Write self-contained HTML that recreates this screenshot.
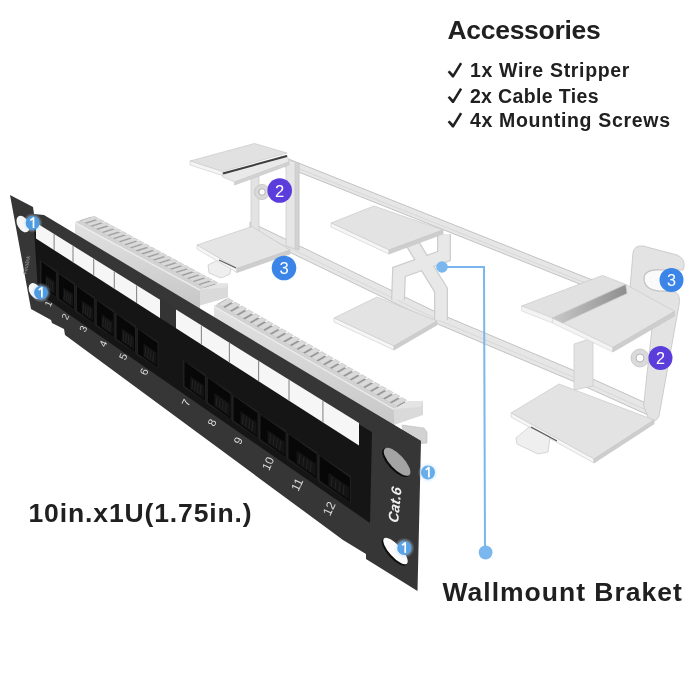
<!DOCTYPE html>
<html><head><meta charset="utf-8"><style>
html,body{margin:0;padding:0;background:#fff;}
#wrap{position:relative;width:700px;height:700px;overflow:hidden;background:#fff;filter:blur(0.35px);}
svg{position:absolute;left:0;top:0;}
.t{position:absolute;font-family:"Liberation Sans",sans-serif;font-weight:bold;color:#222;white-space:nowrap;line-height:1;}
</style></head><body><div id="wrap">
<svg width="700" height="700" viewBox="0 0 700 700">
<polygon points="281.0,156.0 640.0,299.0 640.0,308.0 281.0,165.0" fill="#e6e6e6" stroke="#c2c2c2" stroke-width="1"/><polyline points="281.0,161.6 640.0,304.6" fill="none" stroke="#d8d8d8" stroke-width="1"/>
<polygon points="250.0,222.0 440.0,314.0 575.0,371.0 648.0,404.0 648.0,415.0 575.0,382.0 440.0,325.0 250.0,233.0" fill="#e6e6e6" stroke="#c2c2c2" stroke-width="1"/><polyline points="250.0,228.8 440.0,320.8 575.0,377.8 648.0,410.8" fill="none" stroke="#d8d8d8" stroke-width="1"/>
<polygon points="251.0,178.0 259.0,176.0 259.0,232.0 251.0,232.0" fill="#e3e3e3" stroke="#c9c9c9" stroke-width="0.7"/>
<polygon points="286.0,160.0 299.0,163.0 299.0,250.0 286.0,246.0" fill="#e6e6e6" stroke="#c9c9c9" stroke-width="0.7"/>
<polygon points="295.0,163.0 299.0,163.0 299.0,250.0 295.0,249.0" fill="#d2d2d2" stroke="#c9c9c9" stroke-width="0.7"/>
<polygon points="190.0,161.0 254.5,143.5 287.0,153.0 222.4,171.5" fill="#e1e1e1" stroke="#c9c9c9" stroke-width="0.7"/>
<polygon points="190.0,161.0 222.4,171.5 222.4,175.5 190.0,165.0" fill="#f5f5f5" stroke="#cacaca" stroke-width="0.6"/>
<polygon points="222.4,173.0 287.0,155.0 289.0,162.0 234.5,182.0 222.4,177.0" fill="#e9e9e9" stroke="#cdcdcd" stroke-width="0.6"/>
<polygon points="234.5,182.0 289.0,162.0 289.0,165.0 234.5,185.0" fill="#d2d2d2" stroke="#c9c9c9" stroke-width="0.7"/>
<line x1="223" y1="173.5" x2="287" y2="156" stroke="#3e3e3e" stroke-width="2"/>
<polygon points="208.0,265.0 218.0,260.0 231.0,266.0 230.0,274.0 221.0,278.0 209.0,273.0" fill="#efefef" stroke="#cdcdcd" stroke-width="0.8"/>
<polygon points="197.0,245.0 252.0,226.5 290.0,250.0 237.0,268.5" fill="#e5e5e5" stroke="#c9c9c9" stroke-width="0.7"/>
<polygon points="197.0,245.0 237.0,268.5 237.0,272.5 197.0,249.0" fill="#f6f6f6" stroke="#cacaca" stroke-width="0.6"/>
<polygon points="237.0,268.5 290.0,250.0 290.0,254.0 237.0,272.5" fill="#cdcdcd" stroke="#c9c9c9" stroke-width="0.7"/>
<line x1="219" y1="260" x2="236" y2="268" stroke="#5a5a5a" stroke-width="1.2"/>
<circle cx="262" cy="192" r="5.5" fill="none" stroke="#d8d8d8" stroke-width="4"/><circle cx="262" cy="192" r="3.3" fill="none" stroke="#b0b0b0" stroke-width="1"/><circle cx="262" cy="192" r="7.6" fill="none" stroke="#c4c4c4" stroke-width="0.8"/>
<path d="M412,243 L441,290 L441,320 M444,234 L444,256 L399,272 L398,300" fill="none" stroke="#cdcdcd" stroke-width="14" stroke-linejoin="miter"/>
<path d="M412,243 L441,290 L441,320 M444,234 L444,256 L399,272 L398,300" fill="none" stroke="#e8e8e8" stroke-width="11.5" stroke-linejoin="miter"/>
<polygon points="331.0,223.0 374.0,206.0 443.0,230.0 389.0,250.0" fill="#e3e3e3" stroke="#c9c9c9" stroke-width="0.7"/>
<polygon points="331.0,223.0 389.0,250.0 389.0,254.0 331.0,227.0" fill="#f6f6f6" stroke="#cacaca" stroke-width="0.6"/>
<polygon points="389.0,250.0 443.0,230.0 443.0,234.0 389.0,254.0" fill="#cdcdcd" stroke="#c9c9c9" stroke-width="0.7"/>
<polygon points="334.0,318.0 377.0,297.0 437.0,321.0 394.0,346.0" fill="#e3e3e3" stroke="#c9c9c9" stroke-width="0.7"/>
<polygon points="334.0,318.0 394.0,346.0 394.0,350.0 334.0,322.0" fill="#f6f6f6" stroke="#cacaca" stroke-width="0.6"/>
<polygon points="394.0,346.0 437.0,321.0 437.0,325.0 394.0,350.0" fill="#cdcdcd" stroke="#c9c9c9" stroke-width="0.7"/>
<polygon points="574.0,344.0 593.0,338.0 593.0,386.0 574.0,390.0" fill="#e3e3e3" stroke="#c9c9c9" stroke-width="0.7"/>
<path d="M629,300 L633,253 Q634,245 643,246 L677,255 Q685,258 684,267 L683,270 L660,270 Q645,269 644,278 Q644,290 660,291 L675,292 Q681,295 679,305 L659,416 Q656,423 649,420 L643.6,405.7 L652,328 Z" fill="#e3e3e3" stroke="#c8c8c8" stroke-width="0.9"/>
<path d="M660,270 Q645,269 644,278 Q644,290 660,291 L668,291 L668,270 Z" fill="#fafafa" stroke="#c4c4c4" stroke-width="1.2"/>
<circle cx="640" cy="358" r="6.5" fill="none" stroke="#dadada" stroke-width="5"/><circle cx="640" cy="358" r="4" fill="none" stroke="#b4b4b4" stroke-width="1"/><circle cx="640" cy="358" r="9" fill="none" stroke="#c4c4c4" stroke-width="0.8"/>
<defs><linearGradient id="stepg" x1="0" y1="0" x2="1" y2="0"><stop offset="0" stop-color="#c8c8c8"/><stop offset="1" stop-color="#8e8e8e"/></linearGradient></defs>
<polygon points="552.4,318.0 625.7,284.4 674.6,311.4 612.9,347.4" fill="#e4e4e4" stroke="#c9c9c9" stroke-width="0.7"/>
<polygon points="552.4,318.0 612.9,347.4 612.9,352.0 552.4,323.0" fill="#f3f3f3" stroke="#d2d2d2" stroke-width="0.6"/>
<polygon points="612.9,347.4 674.6,311.4 674.6,316.0 612.9,352.0" fill="#cdcdcd" stroke="#c9c9c9" stroke-width="0.7"/>
<polygon points="521.6,306.0 602.6,275.4 625.7,284.4 552.4,318.0" fill="#e1e1e1" stroke="#c9c9c9" stroke-width="0.7"/>
<polygon points="521.6,306.0 552.4,318.0 552.4,323.0 521.6,311.0" fill="#f3f3f3" stroke="#d2d2d2" stroke-width="0.6"/>
<polygon points="552.4,318.0 625.7,284.4 627.0,293.4 562.7,323.0" fill="url(#stepg)" stroke="#c9c9c9" stroke-width="0.7"/>
<polygon points="511.0,413.0 559.0,384.0 654.0,420.0 594.0,459.0" fill="#e3e3e3" stroke="#c9c9c9" stroke-width="0.7"/>
<polygon points="511.0,413.0 594.0,459.0 594.0,463.0 511.0,417.0" fill="#f6f6f6" stroke="#cacaca" stroke-width="0.6"/>
<polygon points="594.0,459.0 654.0,420.0 654.0,424.0 594.0,463.0" fill="#cdcdcd" stroke="#c9c9c9" stroke-width="0.7"/>
<polygon points="516.0,438.0 529.0,427.0 550.0,437.0 548.0,452.0 538.0,454.0 517.0,444.0" fill="#efefef" stroke="#cdcdcd" stroke-width="0.8"/>
<line x1="531" y1="427" x2="557" y2="441" stroke="#5a5a5a" stroke-width="1.4"/>
<defs><linearGradient id="mface" x1="0" y1="0" x2="0" y2="1"><stop offset="0" stop-color="#e2e2e2"/><stop offset="1" stop-color="#c4c4c4"/></linearGradient></defs>
<polygon points="79.8,220.5 91.2,216.9 216.2,284.4 204.8,288.0" fill="#8e8e8e"/>
<polygon points="94.3,216.2 98.5,218.5 84.3,223.0 80.1,220.7" fill="#dadada" stroke="#bcbcbc" stroke-width="0.5"/>
<polygon points="100.0,219.3 104.2,221.5 90.0,226.0 85.8,223.8" fill="#dadada" stroke="#bcbcbc" stroke-width="0.5"/>
<polygon points="105.7,222.3 109.9,224.6 95.7,229.1 91.5,226.8" fill="#dadada" stroke="#bcbcbc" stroke-width="0.5"/>
<polygon points="111.4,225.4 115.6,227.7 101.3,232.2 97.1,229.9" fill="#dadada" stroke="#bcbcbc" stroke-width="0.5"/>
<polygon points="117.1,228.5 121.3,230.7 107.0,235.2 102.8,233.0" fill="#dadada" stroke="#bcbcbc" stroke-width="0.5"/>
<polygon points="122.8,231.5 127.0,233.8 112.7,238.3 108.5,236.0" fill="#dadada" stroke="#bcbcbc" stroke-width="0.5"/>
<polygon points="128.4,234.6 132.6,236.9 118.4,241.4 114.2,239.1" fill="#dadada" stroke="#bcbcbc" stroke-width="0.5"/>
<polygon points="134.1,237.7 138.3,239.9 124.1,244.4 119.9,242.2" fill="#dadada" stroke="#bcbcbc" stroke-width="0.5"/>
<polygon points="139.8,240.7 144.0,243.0 129.8,247.5 125.5,245.2" fill="#dadada" stroke="#bcbcbc" stroke-width="0.5"/>
<polygon points="145.5,243.8 149.7,246.1 135.4,250.6 131.2,248.3" fill="#dadada" stroke="#bcbcbc" stroke-width="0.5"/>
<polygon points="151.2,246.9 155.4,249.1 141.1,253.6 136.9,251.4" fill="#dadada" stroke="#bcbcbc" stroke-width="0.5"/>
<polygon points="156.8,249.9 161.0,252.2 146.8,256.7 142.6,254.4" fill="#dadada" stroke="#bcbcbc" stroke-width="0.5"/>
<polygon points="162.5,253.0 166.7,255.3 152.5,259.8 148.3,257.5" fill="#dadada" stroke="#bcbcbc" stroke-width="0.5"/>
<polygon points="168.2,256.1 172.4,258.3 158.2,262.8 154.0,260.6" fill="#dadada" stroke="#bcbcbc" stroke-width="0.5"/>
<polygon points="173.9,259.1 178.1,261.4 163.8,265.9 159.6,263.6" fill="#dadada" stroke="#bcbcbc" stroke-width="0.5"/>
<polygon points="179.6,262.2 183.8,264.5 169.5,269.0 165.3,266.7" fill="#dadada" stroke="#bcbcbc" stroke-width="0.5"/>
<polygon points="185.2,265.3 189.5,267.5 175.2,272.0 171.0,269.8" fill="#dadada" stroke="#bcbcbc" stroke-width="0.5"/>
<polygon points="190.9,268.3 195.1,270.6 180.9,275.1 176.7,272.8" fill="#dadada" stroke="#bcbcbc" stroke-width="0.5"/>
<polygon points="196.6,271.4 200.8,273.7 186.6,278.2 182.4,275.9" fill="#dadada" stroke="#bcbcbc" stroke-width="0.5"/>
<polygon points="202.3,274.5 206.5,276.8 192.2,281.2 188.0,279.0" fill="#dadada" stroke="#bcbcbc" stroke-width="0.5"/>
<polygon points="208.0,277.5 212.2,279.8 197.9,284.3 193.7,282.0" fill="#dadada" stroke="#bcbcbc" stroke-width="0.5"/>
<polygon points="213.7,280.6 217.9,282.9 203.6,287.4 199.4,285.1" fill="#dadada" stroke="#bcbcbc" stroke-width="0.5"/>
<polygon points="75.0,222.0 79.8,220.5 204.8,288.0 200.0,289.5" fill="#d2d2d2"/>
<polygon points="75.0,222.0 200.0,289.5 200.0,315.5 75.0,248.0" fill="url(#mface)"/>
<line x1="75" y1="222.6" x2="200" y2="290.1" stroke="#ececec" stroke-width="1.2"/>
<polygon points="200.0,289.5 219.0,283.5 228.0,283.5 228.0,297.5 200.0,305.5" fill="#dadada"/>
<polygon points="200.0,289.5 219.0,283.5 228.0,283.5 226.0,287.5" fill="#e4e4e4"/>
<polygon points="217.5,304.0 225.9,299.2 405.9,402.2 397.5,407.0" fill="#8e8e8e"/>
<polygon points="228.4,298.2 233.3,301.1 222.8,307.1 217.9,304.2" fill="#dadada" stroke="#bcbcbc" stroke-width="0.5"/>
<polygon points="235.1,302.0 240.0,304.9 229.5,310.9 224.6,308.0" fill="#dadada" stroke="#bcbcbc" stroke-width="0.5"/>
<polygon points="241.7,305.9 246.7,308.7 236.2,314.7 231.2,311.9" fill="#dadada" stroke="#bcbcbc" stroke-width="0.5"/>
<polygon points="248.4,309.7 253.3,312.5 242.8,318.5 237.9,315.7" fill="#dadada" stroke="#bcbcbc" stroke-width="0.5"/>
<polygon points="255.1,313.5 260.0,316.3 249.5,322.3 244.6,319.5" fill="#dadada" stroke="#bcbcbc" stroke-width="0.5"/>
<polygon points="261.7,317.3 266.7,320.1 256.2,326.1 251.2,323.3" fill="#dadada" stroke="#bcbcbc" stroke-width="0.5"/>
<polygon points="268.4,321.1 273.3,323.9 262.8,329.9 257.9,327.1" fill="#dadada" stroke="#bcbcbc" stroke-width="0.5"/>
<polygon points="275.1,324.9 280.0,327.8 269.5,333.8 264.6,330.9" fill="#dadada" stroke="#bcbcbc" stroke-width="0.5"/>
<polygon points="281.7,328.7 286.7,331.6 276.2,337.6 271.2,334.7" fill="#dadada" stroke="#bcbcbc" stroke-width="0.5"/>
<polygon points="288.4,332.6 293.3,335.4 282.8,341.4 277.9,338.6" fill="#dadada" stroke="#bcbcbc" stroke-width="0.5"/>
<polygon points="295.1,336.4 300.0,339.2 289.5,345.2 284.6,342.4" fill="#dadada" stroke="#bcbcbc" stroke-width="0.5"/>
<polygon points="301.7,340.2 306.7,343.0 296.2,349.0 291.2,346.2" fill="#dadada" stroke="#bcbcbc" stroke-width="0.5"/>
<polygon points="308.4,344.0 313.3,346.8 302.8,352.8 297.9,350.0" fill="#dadada" stroke="#bcbcbc" stroke-width="0.5"/>
<polygon points="315.1,347.8 320.0,350.6 309.5,356.6 304.6,353.8" fill="#dadada" stroke="#bcbcbc" stroke-width="0.5"/>
<polygon points="321.7,351.6 326.7,354.5 316.2,360.5 311.2,357.6" fill="#dadada" stroke="#bcbcbc" stroke-width="0.5"/>
<polygon points="328.4,355.5 333.3,358.3 322.8,364.3 317.9,361.5" fill="#dadada" stroke="#bcbcbc" stroke-width="0.5"/>
<polygon points="335.1,359.3 340.0,362.1 329.5,368.1 324.6,365.3" fill="#dadada" stroke="#bcbcbc" stroke-width="0.5"/>
<polygon points="341.7,363.1 346.7,365.9 336.2,371.9 331.2,369.1" fill="#dadada" stroke="#bcbcbc" stroke-width="0.5"/>
<polygon points="348.4,366.9 353.3,369.7 342.8,375.7 337.9,372.9" fill="#dadada" stroke="#bcbcbc" stroke-width="0.5"/>
<polygon points="355.1,370.7 360.0,373.5 349.5,379.5 344.6,376.7" fill="#dadada" stroke="#bcbcbc" stroke-width="0.5"/>
<polygon points="361.7,374.5 366.7,377.3 356.2,383.3 351.2,380.5" fill="#dadada" stroke="#bcbcbc" stroke-width="0.5"/>
<polygon points="368.4,378.3 373.3,381.2 362.8,387.2 357.9,384.3" fill="#dadada" stroke="#bcbcbc" stroke-width="0.5"/>
<polygon points="375.1,382.2 380.0,385.0 369.5,391.0 364.6,388.2" fill="#dadada" stroke="#bcbcbc" stroke-width="0.5"/>
<polygon points="381.7,386.0 386.7,388.8 376.2,394.8 371.2,392.0" fill="#dadada" stroke="#bcbcbc" stroke-width="0.5"/>
<polygon points="388.4,389.8 393.3,392.6 382.8,398.6 377.9,395.8" fill="#dadada" stroke="#bcbcbc" stroke-width="0.5"/>
<polygon points="395.1,393.6 400.0,396.4 389.5,402.4 384.6,399.6" fill="#dadada" stroke="#bcbcbc" stroke-width="0.5"/>
<polygon points="401.7,397.4 406.7,400.2 396.2,406.2 391.2,403.4" fill="#dadada" stroke="#bcbcbc" stroke-width="0.5"/>
<polygon points="214.0,306.0 217.5,304.0 397.5,407.0 394.0,409.0" fill="#d2d2d2"/>
<polygon points="214.0,306.0 394.0,409.0 394.0,443.0 214.0,340.0" fill="url(#mface)"/>
<line x1="214" y1="306.6" x2="394" y2="409.6" stroke="#ececec" stroke-width="1.2"/>
<polygon points="394.0,409.0 408.0,401.0 423.0,401.0 423.0,415.0 394.0,425.0" fill="#dadada"/>
<polygon points="394.0,409.0 408.0,401.0 423.0,401.0 421.0,407.0" fill="#e4e4e4"/>
<polygon points="402.0,425.0 424.0,428.0 427.0,432.0 427.0,443.0 405.0,445.0" fill="#d2d2d2" stroke="#bdbdbd" stroke-width="0.6"/>
<polygon points="10.0,195.0 33.0,207.0 34.0,214.0 44.0,215.0 421.0,441.0 417.5,591.0 366.0,559.0 366.0,554.0 343.0,540.0 65.0,335.0 64.0,329.0 52.0,323.0 51.0,320.0 31.0,309.0" fill="#363636"/>
<polygon points="34.0,227.0 372.0,432.0 370.0,523.0 38.0,293.0" fill="#151515"/>
<polygon points="34.0,214.0 421.0,441.0 372.0,432.0 34.0,227.0" fill="#363636"/>
<polygon points="160.0,298.7 176.0,308.6 176.0,328.2 160.0,318.0" fill="#343434"/>
<polygon points="36.0,222.8 160.0,299.7 160.0,318.0 36.0,238.5" fill="#f6f6f6"/>
<line x1="54.1" y1="234.0" x2="54.1" y2="250.1" stroke="#8a8a8a" stroke-width="1.1"/>
<line x1="73.0" y1="245.8" x2="73.0" y2="262.2" stroke="#8a8a8a" stroke-width="1.1"/>
<line x1="93.7" y1="258.6" x2="93.7" y2="275.5" stroke="#8a8a8a" stroke-width="1.1"/>
<line x1="114.3" y1="271.4" x2="114.3" y2="288.7" stroke="#8a8a8a" stroke-width="1.1"/>
<line x1="136.6" y1="285.2" x2="136.6" y2="303.0" stroke="#8a8a8a" stroke-width="1.1"/>
<polygon points="176.0,309.6 359.0,423.1 359.0,445.5 176.0,328.2" fill="#f6f6f6"/>
<line x1="201.4" y1="325.4" x2="201.4" y2="344.5" stroke="#8a8a8a" stroke-width="1.1"/>
<line x1="229.4" y1="342.7" x2="229.4" y2="362.5" stroke="#8a8a8a" stroke-width="1.1"/>
<line x1="258.6" y1="360.8" x2="258.6" y2="381.2" stroke="#8a8a8a" stroke-width="1.1"/>
<line x1="289.0" y1="379.7" x2="289.0" y2="400.6" stroke="#8a8a8a" stroke-width="1.1"/>
<line x1="322.9" y1="400.7" x2="322.9" y2="422.4" stroke="#8a8a8a" stroke-width="1.1"/>
<polygon points="39.8,260.1 56.9,270.5 56.9,297.7 39.8,287.3" fill="#202020"/>
<polygon points="41.5,261.8 55.9,272.2 55.9,296.7 41.5,286.3" fill="#070707"/>
<polygon points="45.5,274.9 54.9,281.5 54.9,294.5 45.5,287.9" fill="#141414"/>
<line x1="47.2" y1="278.2" x2="46.2" y2="287.7" stroke="#262626" stroke-width="0.9"/>
<line x1="49.2" y1="279.5" x2="48.2" y2="289.0" stroke="#262626" stroke-width="0.9"/>
<line x1="51.1" y1="280.9" x2="50.1" y2="290.4" stroke="#262626" stroke-width="0.9"/>
<line x1="53.0" y1="282.2" x2="52.0" y2="291.7" stroke="#262626" stroke-width="0.9"/>
<polygon points="57.2,272.2 75.0,283.1 75.0,310.3 57.2,299.4" fill="#202020"/>
<polygon points="58.9,273.9 74.0,284.8 74.0,309.3 58.9,298.4" fill="#070707"/>
<polygon points="63.1,287.2 73.0,294.1 73.0,307.1 63.1,300.2" fill="#141414"/>
<line x1="64.9" y1="290.5" x2="63.9" y2="300.0" stroke="#262626" stroke-width="0.9"/>
<line x1="67.0" y1="291.9" x2="66.0" y2="301.4" stroke="#262626" stroke-width="0.9"/>
<line x1="69.0" y1="293.4" x2="68.0" y2="302.9" stroke="#262626" stroke-width="0.9"/>
<line x1="71.0" y1="294.8" x2="70.0" y2="304.3" stroke="#262626" stroke-width="0.9"/>
<polygon points="75.3,284.9 94.9,297.0 94.9,324.2 75.3,312.1" fill="#202020"/>
<polygon points="77.0,286.6 93.9,298.7 93.9,323.2 77.0,311.1" fill="#070707"/>
<polygon points="81.7,300.2 92.9,308.0 92.9,321.0 81.7,313.2" fill="#141414"/>
<line x1="83.8" y1="303.7" x2="82.8" y2="313.2" stroke="#262626" stroke-width="0.9"/>
<line x1="86.1" y1="305.3" x2="85.1" y2="314.8" stroke="#262626" stroke-width="0.9"/>
<line x1="88.3" y1="306.8" x2="87.3" y2="316.3" stroke="#262626" stroke-width="0.9"/>
<line x1="90.6" y1="308.4" x2="89.6" y2="317.9" stroke="#262626" stroke-width="0.9"/>
<polygon points="95.2,298.8 114.6,310.8 114.6,338.0 95.2,326.0" fill="#202020"/>
<polygon points="96.9,300.5 113.6,312.5 113.6,337.0 96.9,325.0" fill="#070707"/>
<polygon points="101.6,314.1 112.6,321.8 112.6,334.8 101.6,327.1" fill="#141414"/>
<line x1="103.6" y1="317.5" x2="102.6" y2="327.0" stroke="#262626" stroke-width="0.9"/>
<line x1="105.9" y1="319.1" x2="104.9" y2="328.6" stroke="#262626" stroke-width="0.9"/>
<line x1="108.1" y1="320.7" x2="107.1" y2="330.2" stroke="#262626" stroke-width="0.9"/>
<line x1="110.4" y1="322.2" x2="109.4" y2="331.7" stroke="#262626" stroke-width="0.9"/>
<polygon points="114.9,312.6 136.0,325.8 136.0,353.0 114.9,339.8" fill="#202020"/>
<polygon points="116.6,314.3 135.0,327.5 135.0,352.0 116.6,338.8" fill="#070707"/>
<polygon points="121.8,328.2 134.0,336.8 134.0,349.8 121.8,341.2" fill="#141414"/>
<line x1="124.1" y1="331.8" x2="123.1" y2="341.3" stroke="#262626" stroke-width="0.9"/>
<line x1="126.5" y1="333.5" x2="125.5" y2="343.0" stroke="#262626" stroke-width="0.9"/>
<line x1="129.0" y1="335.2" x2="128.0" y2="344.7" stroke="#262626" stroke-width="0.9"/>
<line x1="131.5" y1="337.0" x2="130.5" y2="346.5" stroke="#262626" stroke-width="0.9"/>
<polygon points="136.3,327.5 158.5,341.4 158.5,368.6 136.3,354.7" fill="#202020"/>
<polygon points="138.0,329.2 157.5,343.1 157.5,367.6 138.0,353.7" fill="#070707"/>
<polygon points="143.5,343.4 156.5,352.4 156.5,365.4 143.5,356.4" fill="#141414"/>
<line x1="145.9" y1="347.1" x2="144.9" y2="356.6" stroke="#262626" stroke-width="0.9"/>
<line x1="148.5" y1="348.9" x2="147.5" y2="358.4" stroke="#262626" stroke-width="0.9"/>
<line x1="151.1" y1="350.7" x2="150.1" y2="360.2" stroke="#262626" stroke-width="0.9"/>
<line x1="153.7" y1="352.5" x2="152.7" y2="362.0" stroke="#262626" stroke-width="0.9"/>
<polygon points="182.8,359.9 205.9,374.5 205.9,401.7 182.8,387.1" fill="#202020"/>
<polygon points="184.5,361.6 204.9,376.2 204.9,400.7 184.5,386.1" fill="#070707"/>
<polygon points="190.3,376.0 203.9,385.5 203.9,398.5 190.3,389.0" fill="#141414"/>
<line x1="192.8" y1="379.8" x2="191.8" y2="389.3" stroke="#262626" stroke-width="0.9"/>
<line x1="195.5" y1="381.7" x2="194.5" y2="391.2" stroke="#262626" stroke-width="0.9"/>
<line x1="198.2" y1="383.5" x2="197.2" y2="393.0" stroke="#262626" stroke-width="0.9"/>
<line x1="200.9" y1="385.4" x2="199.9" y2="394.9" stroke="#262626" stroke-width="0.9"/>
<polygon points="206.2,376.3 231.6,392.5 231.6,419.7 206.2,403.5" fill="#202020"/>
<polygon points="207.9,378.0 230.6,394.2 230.6,418.7 207.9,402.5" fill="#070707"/>
<polygon points="214.3,392.8 229.6,403.5 229.6,416.5 214.3,405.8" fill="#141414"/>
<line x1="217.1" y1="396.8" x2="216.1" y2="406.3" stroke="#262626" stroke-width="0.9"/>
<line x1="220.2" y1="398.9" x2="219.2" y2="408.4" stroke="#262626" stroke-width="0.9"/>
<line x1="223.2" y1="401.0" x2="222.2" y2="410.5" stroke="#262626" stroke-width="0.9"/>
<line x1="226.2" y1="403.1" x2="225.2" y2="412.6" stroke="#262626" stroke-width="0.9"/>
<polygon points="231.9,394.2 258.5,411.3 258.5,438.5 231.9,421.4" fill="#202020"/>
<polygon points="233.6,395.9 257.5,413.0 257.5,437.5 233.6,420.4" fill="#070707"/>
<polygon points="240.4,411.0 256.5,422.3 256.5,435.3 240.4,424.0" fill="#141414"/>
<line x1="243.4" y1="415.1" x2="242.4" y2="424.6" stroke="#262626" stroke-width="0.9"/>
<line x1="246.5" y1="417.3" x2="245.5" y2="426.8" stroke="#262626" stroke-width="0.9"/>
<line x1="249.7" y1="419.5" x2="248.7" y2="429.0" stroke="#262626" stroke-width="0.9"/>
<line x1="252.9" y1="421.7" x2="251.9" y2="431.2" stroke="#262626" stroke-width="0.9"/>
<polygon points="258.8,413.0 286.5,430.8 286.5,458.0 258.8,440.2" fill="#202020"/>
<polygon points="260.5,414.7 285.5,432.5 285.5,457.0 260.5,439.2" fill="#070707"/>
<polygon points="267.6,430.0 284.5,441.8 284.5,454.8 267.6,443.0" fill="#141414"/>
<line x1="270.7" y1="434.2" x2="269.7" y2="443.7" stroke="#262626" stroke-width="0.9"/>
<line x1="274.0" y1="436.5" x2="273.0" y2="446.0" stroke="#262626" stroke-width="0.9"/>
<line x1="277.3" y1="438.8" x2="276.3" y2="448.3" stroke="#262626" stroke-width="0.9"/>
<line x1="280.6" y1="441.1" x2="279.6" y2="450.6" stroke="#262626" stroke-width="0.9"/>
<polygon points="286.8,432.5 317.7,452.6 317.7,479.8 286.8,459.7" fill="#202020"/>
<polygon points="288.5,434.2 316.7,454.3 316.7,478.8 288.5,458.7" fill="#070707"/>
<polygon points="296.6,450.2 315.7,463.6 315.7,476.6 296.6,463.2" fill="#141414"/>
<line x1="300.0" y1="454.6" x2="299.0" y2="464.1" stroke="#262626" stroke-width="0.9"/>
<line x1="303.7" y1="457.2" x2="302.7" y2="466.7" stroke="#262626" stroke-width="0.9"/>
<line x1="307.5" y1="459.8" x2="306.5" y2="469.3" stroke="#262626" stroke-width="0.9"/>
<line x1="311.2" y1="462.4" x2="310.2" y2="471.9" stroke="#262626" stroke-width="0.9"/>
<polygon points="318.0,454.3 350.9,475.7 350.9,502.9 318.0,481.5" fill="#202020"/>
<polygon points="319.7,456.0 349.9,477.4 349.9,501.9 319.7,480.5" fill="#070707"/>
<polygon points="328.4,472.4 348.9,486.7 348.9,499.7 328.4,485.4" fill="#141414"/>
<line x1="332.1" y1="477.0" x2="331.1" y2="486.5" stroke="#262626" stroke-width="0.9"/>
<line x1="336.0" y1="479.8" x2="335.0" y2="489.3" stroke="#262626" stroke-width="0.9"/>
<line x1="340.0" y1="482.6" x2="339.0" y2="492.1" stroke="#262626" stroke-width="0.9"/>
<line x1="344.0" y1="485.4" x2="343.0" y2="494.9" stroke="#262626" stroke-width="0.9"/>
<ellipse cx="23" cy="224" rx="5.5" ry="9" transform="rotate(-30 23 224)" fill="#f6f6f6"/>
<ellipse cx="35" cy="291" rx="5.5" ry="8.5" transform="rotate(-30 35 291)" fill="#f6f6f6"/>
<ellipse cx="396" cy="462.5" rx="7.8" ry="18.5" transform="rotate(-43 396 462.5)" fill="#0c0c0c"/>
<ellipse cx="397.1" cy="461.8" rx="7" ry="18" transform="rotate(-43 397.1 461.8)" fill="#a4a4a4"/>
<ellipse cx="394.5" cy="552" rx="6.6" ry="17.5" transform="rotate(-42 394.5 552)" fill="#0c0c0c"/>
<ellipse cx="395.5" cy="551" rx="6" ry="17" transform="rotate(-42 395.5 551)" fill="#fafafa"/>
<text x="49" y="304" transform="rotate(-65 49 304)" font-size="9.5" fill="#dcdcdc" text-anchor="middle" dominant-baseline="middle" font-family="Liberation Sans">1</text>
<text x="66" y="317" transform="rotate(-65 66 317)" font-size="9.8" fill="#dcdcdc" text-anchor="middle" dominant-baseline="middle" font-family="Liberation Sans">2</text>
<text x="84" y="329" transform="rotate(-65 84 329)" font-size="10.0" fill="#dcdcdc" text-anchor="middle" dominant-baseline="middle" font-family="Liberation Sans">3</text>
<text x="104" y="344" transform="rotate(-65 104 344)" font-size="10.2" fill="#dcdcdc" text-anchor="middle" dominant-baseline="middle" font-family="Liberation Sans">4</text>
<text x="124" y="357" transform="rotate(-65 124 357)" font-size="10.5" fill="#dcdcdc" text-anchor="middle" dominant-baseline="middle" font-family="Liberation Sans">5</text>
<text x="145" y="372" transform="rotate(-65 145 372)" font-size="10.8" fill="#dcdcdc" text-anchor="middle" dominant-baseline="middle" font-family="Liberation Sans">6</text>
<text x="187" y="403" transform="rotate(-65 187 403)" font-size="11.0" fill="#dcdcdc" text-anchor="middle" dominant-baseline="middle" font-family="Liberation Sans">7</text>
<text x="213" y="423" transform="rotate(-65 213 423)" font-size="11.2" fill="#dcdcdc" text-anchor="middle" dominant-baseline="middle" font-family="Liberation Sans">8</text>
<text x="239" y="441" transform="rotate(-65 239 441)" font-size="11.5" fill="#dcdcdc" text-anchor="middle" dominant-baseline="middle" font-family="Liberation Sans">9</text>
<text x="269" y="464" transform="rotate(-65 269 464)" font-size="11.8" fill="#dcdcdc" text-anchor="middle" dominant-baseline="middle" font-family="Liberation Sans">10</text>
<text x="298" y="485" transform="rotate(-65 298 485)" font-size="12.0" fill="#dcdcdc" text-anchor="middle" dominant-baseline="middle" font-family="Liberation Sans">11</text>
<text x="330" y="509" transform="rotate(-65 330 509)" font-size="12.2" fill="#dcdcdc" text-anchor="middle" dominant-baseline="middle" font-family="Liberation Sans">12</text>
<text x="0" y="0" transform="translate(396 505) rotate(-84) skewX(-8)" font-size="14.5" font-style="italic" font-weight="bold" fill="#eeeeee" text-anchor="middle" dominant-baseline="middle" font-family="Liberation Sans">Cat.6</text>
<text x="27" y="265" transform="rotate(-78 27 265)" font-size="5.5" fill="#9a9a9a" text-anchor="middle" dominant-baseline="middle" font-family="Liberation Sans">Finalink</text>
<defs><radialGradient id="glow"><stop offset="0.6" stop-color="#bfe0ff" stop-opacity="0.55"/><stop offset="1" stop-color="#bfe0ff" stop-opacity="0"/></radialGradient></defs>
<circle cx="32.6" cy="223" r="10.0" fill="url(#glow)"/><circle cx="32.6" cy="223" r="6.9" fill="#4f9be2"/><path d="M30.3,220.4 L33.5,218.0 L33.5,228.0" fill="none" stroke="#fff" stroke-width="1.7" stroke-linejoin="round"/>
<circle cx="41" cy="292.6" r="10.0" fill="url(#glow)"/><circle cx="41" cy="292.6" r="6.9" fill="#4f9be2"/><path d="M38.7,290.0 L41.9,287.6 L41.9,297.6" fill="none" stroke="#fff" stroke-width="1.7" stroke-linejoin="round"/>
<circle cx="428" cy="472.5" r="10.2" fill="url(#glow)"/><circle cx="428" cy="472.5" r="7" fill="#68ade9"/><path d="M425.7,469.9 L428.9,467.5 L428.9,477.5" fill="none" stroke="#fff" stroke-width="1.7" stroke-linejoin="round"/>
<circle cx="404.3" cy="548" r="10.3" fill="url(#glow)"/><circle cx="404.3" cy="548" r="7.1" fill="#5aa3e6"/><path d="M402.0,545.3 L405.2,542.9 L405.2,553.1" fill="none" stroke="#fff" stroke-width="1.7" stroke-linejoin="round"/>
<circle cx="279.7" cy="190.5" r="12.3" fill="#5b3ddc"/><text x="279.7" y="196.5" font-size="16.6" fill="#fff" text-anchor="middle" font-family="Liberation Sans">2</text>
<circle cx="284" cy="268" r="12.3" fill="#3b84e8"/><text x="284" y="274.0" font-size="16.6" fill="#fff" text-anchor="middle" font-family="Liberation Sans">3</text>
<circle cx="671.5" cy="280" r="12" fill="#3b84e8"/><text x="671.5" y="285.8" font-size="16.2" fill="#fff" text-anchor="middle" font-family="Liberation Sans">3</text>
<circle cx="660.5" cy="358" r="12" fill="#5b3ddc"/><text x="660.5" y="363.8" font-size="16.2" fill="#fff" text-anchor="middle" font-family="Liberation Sans">2</text>
<polyline points="442,267 484,267 485,552" fill="none" stroke="#79b7ee" stroke-width="2"/>
<circle cx="442" cy="267" r="5.8" fill="#79b7ee"/>
<circle cx="485.6" cy="552.5" r="6.9" fill="#79b7ee"/>
<text x="447.5" y="39" font-family="Liberation Sans" font-weight="bold" font-size="26.5" style="letter-spacing:-0.3px" fill="#202020">Accessories</text>
<text x="469.9" y="77" font-family="Liberation Sans" font-weight="bold" font-size="19.5" style="letter-spacing:0.68px" fill="#202020">1x Wire Stripper</text>
<polygon points="447.6,72.0 449.6,70.4 453.0,74.0 460.0,62.6 462.2,63.8 453.8,77.6 452.2,77.6" fill="#202020"/>
<text x="469.9" y="102.5" font-family="Liberation Sans" font-weight="bold" font-size="19.5" style="letter-spacing:0.37px" fill="#202020">2x Cable Ties</text>
<polygon points="447.6,97.5 449.6,95.9 453.0,99.5 460.0,88.1 462.2,89.3 453.8,103.1 452.2,103.1" fill="#202020"/>
<text x="469.9" y="127" font-family="Liberation Sans" font-weight="bold" font-size="19.5" style="letter-spacing:0.68px" fill="#202020">4x Mounting Screws</text>
<polygon points="447.6,122.0 449.6,120.4 453.0,124.0 460.0,112.6 462.2,113.8 453.8,127.6 452.2,127.6" fill="#202020"/>
<text x="28.5" y="522" font-family="Liberation Sans" font-weight="bold" font-size="26.5" style="letter-spacing:0.875px" fill="#202020">10in.x1U(1.75in.)</text>
<text x="442.6" y="601" font-family="Liberation Sans" font-weight="bold" font-size="26.5" style="letter-spacing:0.99px" fill="#202020">Wallmount Braket</text>
</svg>
</div></body></html>
